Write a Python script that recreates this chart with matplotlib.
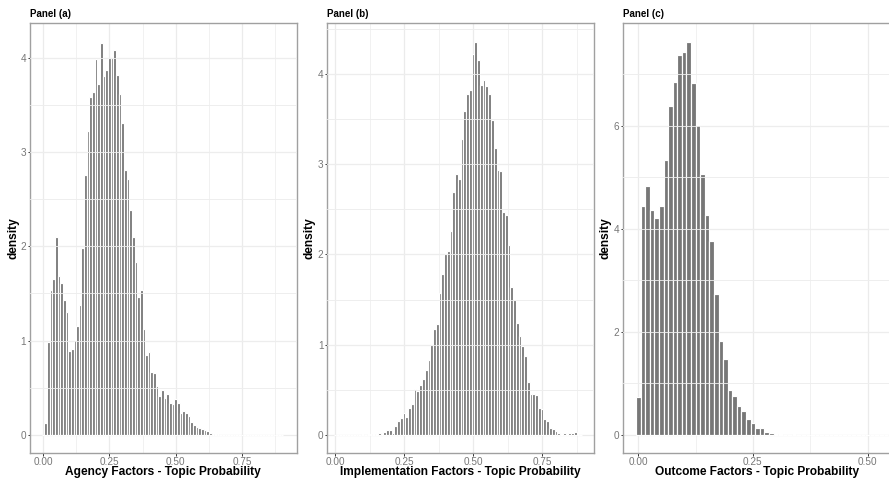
import numpy as np
import matplotlib
matplotlib.use("Agg")
import matplotlib.pyplot as plt

plt.rcParams['font.family'] = ['Liberation Sans', 'DejaVu Sans']

# histogram densities, one value per 0.01-wide bin starting at 0.00
bin_width = 0.01

agency_density = [
    0.005, 0.13, 0.99, 1.54, 1.65, 2.10, 1.68, 1.61, 1.43, 1.30,
    0.89, 0.91, 1.01, 1.16, 1.38, 1.98, 2.76, 3.22, 3.58, 3.63,
    3.98, 3.72, 4.15, 3.80, 3.87, 4.00, 3.99, 4.08, 3.82, 3.61,
    3.31, 2.81, 2.71, 2.38, 2.10, 1.83, 1.46, 1.54, 1.12, 0.85,
    0.88, 0.67, 0.66, 0.52, 0.41, 0.48, 0.39, 0.43, 0.34, 0.33,
    0.38, 0.34, 0.23, 0.25, 0.23, 0.20, 0.14, 0.11, 0.09, 0.07,
    0.06, 0.05, 0.04, 0.025, 0.014, 0.01, 0.006, 0.004, 0.003, 0.002,
    0.002, 0.0, 0.001, 0.0, 0.0, 0.001, 0.0, 0.0, 0.0, 0.0,
    0.002, 0.0, 0.0, 0.0, 0.0, 0.002, 0.0, 0.0, 0.0, 0.0,
    0.002,
]

implementation_density = [
    0.003, 0.002, 0.003, 0.002, 0.003, 0.003, 0.004, 0.004, 0.005, 0.004,
    0.006, 0.005, 0.008, 0.006, 0.010, 0.008, 0.02, 0.01, 0.03, 0.05,
    0.05, 0.02, 0.10, 0.155, 0.185, 0.24, 0.20, 0.30, 0.34, 0.51,
    0.49, 0.55, 0.62, 0.72, 0.83, 1.00, 1.17, 1.23, 1.57, 1.78,
    2.00, 2.04, 2.26, 2.69, 2.89, 2.83, 3.28, 3.59, 3.78, 3.82,
    4.22, 4.35, 4.15, 3.88, 3.93, 3.86, 3.78, 3.49, 3.18, 2.93,
    2.92, 2.47, 2.44, 2.10, 1.64, 1.50, 1.24, 1.10, 0.99, 0.87,
    0.59, 0.45, 0.45, 0.44, 0.30, 0.29, 0.18, 0.15, 0.08, 0.07,
    0.04, 0.02, 0.01, 0.02, 0.01, 0.02, 0.02, 0.03, 0.01, 0.005,
]

outcome_density = [
    0.74, 4.45, 4.84, 4.37, 4.22, 4.45, 5.34, 6.39, 6.86, 7.38,
    7.43, 7.62, 6.83, 6.01, 5.06, 4.26, 3.77, 2.73, 1.83, 1.47,
    0.87, 0.76, 0.56, 0.47, 0.31, 0.24, 0.14, 0.13, 0.065, 0.045,
    0.025, 0.013, 0.008, 0.005, 0.02, 0.004, 0.003, 0.002, 0.002, 0.001,
    0.001, 0.0, 0.001, 0.0, 0.0, 0.001, 0.0, 0.001, 0.0, 0.0,
    0.001, 0.0, 0.001, 0.0, 0.0, 0.001,
]

panel_titles = ["Panel (a)", "Panel (b)", "Panel (c)"]
x_titles = ["Agency Factors - Topic Probability",
            "Implementation Factors - Topic Probability",
            "Outcome Factors - Topic Probability"]
x_ticks = [[0.0, 0.25, 0.50, 0.75], [0.0, 0.25, 0.50, 0.75], [0.0, 0.25, 0.50]]
y_ticks = [[0, 1, 2, 3, 4], [0, 1, 2, 3, 4], [0, 2, 4, 6]]
y_minor = [np.arange(0.5, 4.5, 1.0), np.arange(0.5, 4.6, 1.0), np.arange(1, 8, 2)]
x_limits = [(-0.049, 0.956), (-0.028, 0.938), (-0.0328, 0.549)]
y_limits = [(-0.194, 4.363), (-0.203, 4.56), (-0.355, 7.99)]

W, H = 889, 483
fig = plt.figure(figsize=(W / 100, H / 100), dpi=100)
fig.patch.set_facecolor('white')

panel_left = [30, 327.3, 623.3]
ylab_x = [13, 310, 605]
panel_w, panel_top, panel_bottom = 266.7, 23.3, 453.3

grid_col = '#EBEBEB'
bar_col = '#777777'

for i, dens in enumerate([agency_density, implementation_density, outcome_density]):
    ax = fig.add_axes([panel_left[i] / W, 1 - panel_bottom / H,
                       panel_w / W, (panel_bottom - panel_top) / H])
    centers = np.arange(len(dens)) * bin_width
    ax.set_xlim(*x_limits[i])
    ax.set_ylim(*y_limits[i])

    # background grid
    x_major = x_ticks[i]
    for xv in x_major:
        ax.axvline(xv, color=grid_col, lw=0.9, zorder=0)
        ax.axvline(xv + 0.125, color=grid_col, lw=0.5, zorder=0)
    for yv in y_ticks[i]:
        ax.axhline(yv, color=grid_col, lw=0.9, zorder=0)
    for yv in y_minor[i]:
        ax.axhline(yv, color=grid_col, lw=0.5, zorder=0)

    ax.bar(centers, dens, width=bin_width, color=bar_col,
           edgecolor='white', linewidth=0.85, zorder=2)

    # light streaks where horizontal grid passes through the bars
    for yv in list(y_ticks[i]) + list(y_minor[i]):
        if yv > 0:
            ax.axhline(yv, color='#EEEEEE', lw=0.6, zorder=3)

    ax.set_xticks(x_ticks[i])
    ax.set_xticklabels([f"{t:.2f}" for t in x_ticks[i]])
    ax.set_yticks(y_ticks[i])
    ax.set_yticklabels([str(t) for t in y_ticks[i]])
    ax.tick_params(axis='both', length=1.8, width=0.7, color='#333333',
                   labelsize=7.2, labelcolor='#777777', pad=1.0)

    for s in ax.spines.values():
        s.set_color('#A0A0A0')
        s.set_linewidth(1.0)

    h = panel_bottom - panel_top
    ax.text(0.5, -(472 - panel_bottom) / h, x_titles[i], transform=ax.transAxes,
            ha='center', va='center', fontsize=8.6, fontweight='bold')
    ax.text(-(panel_left[i] - ylab_x[i]) / panel_w, 0.5, "density",
            transform=ax.transAxes, rotation=90, ha='center', va='center',
            fontsize=8.6, fontweight='bold')
    ax.text(0.0, 1 + (panel_top - 14) / h, panel_titles[i], transform=ax.transAxes,
            ha='left', va='center', fontsize=7, fontweight='bold')

fig.savefig("out.png", dpi=100)
